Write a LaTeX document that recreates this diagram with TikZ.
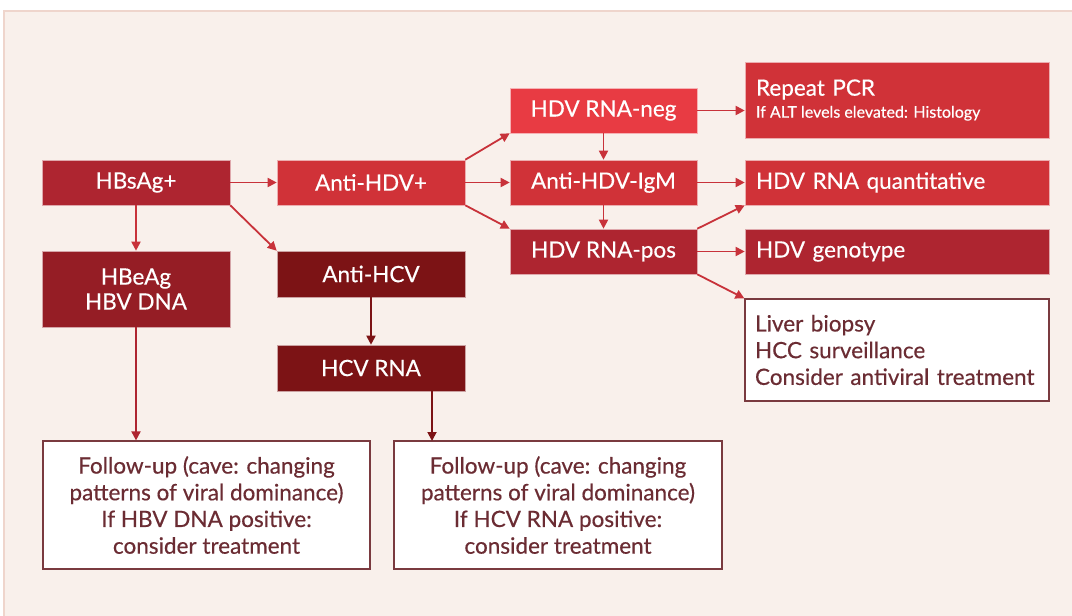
\documentclass[tikz,border=0pt]{standalone}
\usepackage{fontspec}
\setmainfont{Lato}
\newfontfamily\medfont{Lato}[FakeBold=0.4]
\usetikzlibrary{arrows.meta}
\definecolor{bgc}{HTML}{F9F0EB}
\definecolor{bgline}{HTML}{EFD5CC}
\definecolor{cdark}{HTML}{AE2530}
\definecolor{cmid}{HTML}{D03238}
\definecolor{cbright}{HTML}{E83B43}
\definecolor{cdarker}{HTML}{951D25}
\definecolor{cdarkest}{HTML}{7C1315}
\definecolor{carrow}{HTML}{C8323A}
\definecolor{ctext}{HTML}{6B2C33}
\definecolor{cborder}{HTML}{7A3A3F}
\begin{document}
\begin{tikzpicture}[x=1pt,y=-1pt,
  box/.style={rectangle, inner sep=0pt, text=white, draw=white!60!#1, line width=0.6pt, fill=#1,
    font=\medfont\fontsize{22.5}{25}\selectfont, align=center},
  wbox/.style={rectangle, inner sep=0pt, fill=white, draw=cborder, line width=1.2pt, text=ctext,
    font=\medfont\fontsize{22.5}{26.7}\selectfont},
  arr/.style={draw=#1, line width=1.8pt, -{Triangle[length=9pt,width=9pt]}},
  arr/.default=carrow]
\useasboundingbox (0,0) rectangle (1072,616);
\fill[white] (0,0) rectangle (1072,616);
\fill[bgc] (4,10) rectangle (1080,620);
\draw[bgline, line width=2pt] (4,620) -- (4,11) -- (1080,11);

% left column
\node[box=cdark, minimum width=188pt, minimum height=45pt] (hbsag) at (136,182.5) {HBsAg+};
\node[box=cdarker, minimum width=188pt, minimum height=76pt] (hbeag) at (136,289) {HBeAg\\HBV DNA};
% middle column
\node[box=cmid, minimum width=188pt, minimum height=45pt] (antihdv) at (371,182.5) {Anti-HDV+};
\node[box=cdarkest, minimum width=188pt, minimum height=46pt] (antihcv) at (371,274) {Anti-HCV};
\node[box=cdarkest, minimum width=188pt, minimum height=46pt] (hcvrna) at (371,368) {HCV RNA};
% third column
\node[box=cbright, minimum width=187pt, minimum height=45pt] (neg) at (603.5,110.5) {HDV RNA-neg};
\node[box=cmid, minimum width=187pt, minimum height=45pt] (igm) at (603.5,182.5) {Anti-HDV-IgM};
\node[box=cdark, minimum width=187pt, minimum height=45pt] (pos) at (603.5,251.5) {HDV RNA-pos};
% right column
\node[box=cmid, minimum width=304pt, minimum height=76pt, align=left, text width=282pt] (pcr) at (897,100)
  {Repeat PCR\\[-3pt]\mbox{\fontsize{16}{18}\selectfont\spaceskip=0pt\xspaceskip=0pt If ALT levels elevated: Histology}};
\node[box=cmid, minimum width=304pt, minimum height=45pt, align=left, text width=282pt] (quant) at (897,182.5) {HDV RNA quantitative};
\node[box=cdark, minimum width=304pt, minimum height=45pt, align=left, text width=282pt] (geno) at (897,251.5) {HDV genotype};
\node[wbox, minimum width=304pt, minimum height=102pt, align=left, text width=284pt] (liver) at (897,350)
  {Liver biopsy\\HCC surveillance\\Consider antiviral treatment};
% bottom boxes
\node[wbox, minimum width=327pt, minimum height=128pt, align=center] (fu1) at (206.5,505)
  {Follow-up (cave: changing\\patterns of viral dominance)\\If HBV DNA positive:\\consider treatment};
\node[wbox, minimum width=328pt, minimum height=128pt, align=center] (fu2) at (558,505)
  {Follow-up (cave: changing\\patterns of viral dominance)\\If HCV RNA positive:\\consider treatment};

\coordinate (hcvout) at (432,391);
\coordinate (fu2in) at (432,441);

% arrows
\draw[arr] (hbsag.east) -- (antihdv.west);
\draw[arr] (hbsag.south) -- (hbeag.north);
\draw[arr] (hbsag.south east) -- (antihcv.north west);
\draw[arr] (antihdv.north east) -- (neg.south west);
\draw[arr] (antihdv.east) -- (igm.west);
\draw[arr] (antihdv.south east) -- (pos.north west);
\draw[arr] (neg.south) -- (igm.north);
\draw[arr] (igm.south) -- (pos.north);
\draw[arr] (neg.east) -- (pcr.west |- neg.east);
\draw[arr] (igm.east) -- (quant.west);
\draw[arr] (pos.north east) -- (quant.south west);
\draw[arr] (pos.east) -- (geno.west);
\draw[arr] (pos.south east) -- (liver.north west);
\draw[arr=cdark] (hbeag.south) -- (hbeag.south |- fu1.north);
\draw[arr=cdarkest] (antihcv.south) -- (hcvrna.north);
\draw[arr=cdarkest] (hcvout) -- (fu2in);
\end{tikzpicture}
\end{document}
